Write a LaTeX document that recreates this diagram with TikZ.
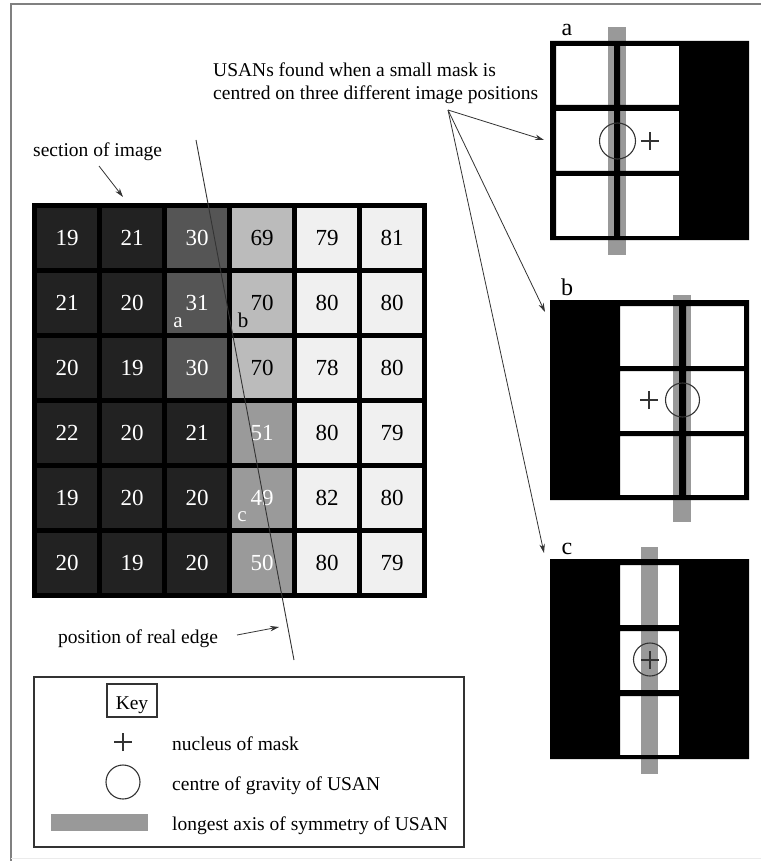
\documentclass[tikz,border=0pt]{standalone}
\usepackage{fontspec}
\setmainfont{Liberation Serif}
\usetikzlibrary{arrows.meta}
\definecolor{cdark}{HTML}{222222}
\definecolor{cmid}{HTML}{555555}
\definecolor{clight}{HTML}{BBBBBB}
\definecolor{cgray}{HTML}{9A9A9A}
\definecolor{cwhite}{HTML}{F0F0F0}
\definecolor{barc}{HTML}{999999}
\definecolor{linec}{HTML}{333333}
\definecolor{framec}{HTML}{808080}
\begin{document}
\begin{tikzpicture}[x=1pt,y=-1pt,
  lbl/.style={font=\fontsize{19.5}{23}\selectfont, inner sep=0pt},
  cell/.style={minimum width=60pt, minimum height=60pt, inner sep=0pt, font=\fontsize{23}{26}\selectfont},
  cD/.style={fill=cdark,text=white},
  cM/.style={fill=cmid,text=white},
  cL/.style={fill=clight,text=black},
  cG/.style={fill=cgray,text=white},
  cW/.style={fill=cwhite,text=black},
  arr/.style={draw=linec, line width=0.8pt, -{Stealth[length=9pt,width=5.5pt]}},
  mlabel/.style={font=\fontsize{24}{26}\selectfont, inner sep=0pt, anchor=base},
  glabel/.style={font=\fontsize{21}{24}\selectfont, inner sep=0pt, anchor=base},
  thinc/.style={draw=linec, line width=1.1pt},
  bar/.style={fill=barc},
]
\useasboundingbox (0,0) rectangle (761,861);
% frame
\draw[framec, line width=2pt] (10.5,861) -- (10.5,4.3) -- (761,4.3);
\draw[black!8, line width=1pt] (10.5,858) -- (761,858);

% ---------- image grid ----------
\fill[black] (32,203) rectangle (427,598);
\foreach \v/\s [count=\i from 0] in {19/cD,21/cD,30/cM,69/cL,79/cW,81/cW}
  \node[cell,\s] (g-\i-0) at (67+65*\i,238) {\v};
\foreach \v/\s [count=\i from 0] in {21/cD,20/cD,31/cM,70/cL,80/cW,80/cW}
  \node[cell,\s] (g-\i-1) at (67+65*\i,303) {\v};
\foreach \v/\s [count=\i from 0] in {20/cD,19/cD,30/cM,70/cL,78/cW,80/cW}
  \node[cell,\s] (g-\i-2) at (67+65*\i,368) {\v};
\foreach \v/\s [count=\i from 0] in {22/cD,20/cD,21/cD,51/cG,80/cW,79/cW}
  \node[cell,\s] (g-\i-3) at (67+65*\i,433) {\v};
\foreach \v/\s [count=\i from 0] in {19/cD,20/cD,20/cD,49/cG,82/cW,80/cW}
  \node[cell,\s] (g-\i-4) at (67+65*\i,498) {\v};
\foreach \v/\s [count=\i from 0] in {20/cD,19/cD,20/cD,50/cG,80/cW,79/cW}
  \node[cell,\s] (g-\i-5) at (67+65*\i,563) {\v};
\node[glabel,text=white] (la) at (178,327) {a};
\node[glabel,text=black] (lb) at (243,327) {b};
\node[glabel,text=white] (lc) at (242,521) {c};

% real edge
\coordinate (edgetop) at (196,140);
\coordinate (edgebot) at (294,660);
\draw[linec, line width=0.9pt] (edgetop) -- (edgebot);

% labels
\node[lbl, anchor=base west] (sect) at (33,157) {section of image};
\coordinate (sectA) at (99,166);
\coordinate (sectB) at (123,197);
\draw[arr] (sectA) -- (sectB);
\node[lbl, anchor=base west] (posedge) at (58,643) {position of real edge};
\coordinate (posA) at (237,635);
\coordinate (posB) at (279,627);
\draw[arr] (posA) -- (posB);

\node[lbl, anchor=base west] (usan1) at (213,77) {USANs found when a small mask is};
\node[lbl, anchor=base west] (usan2) at (213,100) {centred on three different image positions};
\coordinate (usanpt) at (448,110);
\coordinate (ea) at (544,140);
\coordinate (eb) at (545,312);
\coordinate (ec) at (544,553);
\draw[arr] (usanpt) -- (ea);
\draw[arr] (usanpt) -- (eb);
\draw[arr] (usanpt) -- (ec);

% ---------- mask a ----------
\fill[bar] (608,27) rectangle (626,255);
\fill[black, even odd rule] (550,41) rectangle (749,240)
  (556,46) rectangle (614,105) (620,46) rectangle (679,105)
  (556,111) rectangle (614,171) (620,111) rectangle (679,171)
  (556,176) rectangle (614,236) (620,176) rectangle (679,236);
\node[circle, thinc, minimum size=36pt, inner sep=0pt] (cga) at (617.5,141) {};
\coordinate (nua) at (650,141);
\draw[thinc] ([xshift=-9pt]nua) -- ([xshift=9pt]nua) ([yshift=-9pt]nua) -- ([yshift=9pt]nua);
\node[mlabel] (ma) at (567,36) {a};

% ---------- mask b ----------
\fill[bar] (673,295) rectangle (691,522);
\fill[black, even odd rule] (550,300) rectangle (749,500)
  (620,306) rectangle (679,366) (686,306) rectangle (744,366)
  (620,371) rectangle (679,431) (686,371) rectangle (744,431)
  (620,436) rectangle (679,495) (686,436) rectangle (744,495);
\node[circle, thinc, minimum size=34pt, inner sep=0pt] (cgb) at (682.5,400) {};
\coordinate (nub) at (649,400);
\draw[thinc] ([xshift=-9pt]nub) -- ([xshift=9pt]nub) ([yshift=-9pt]nub) -- ([yshift=9pt]nub);
\node[mlabel] (mb) at (567,295) {b};

% ---------- mask c ----------
\fill[bar] (641,547) rectangle (658,774);
\fill[black, even odd rule] (550,559) rectangle (749,759)
  (620,565) rectangle (679,625)
  (620,631) rectangle (679,690)
  (620,696) rectangle (679,755);
\node[circle, thinc, minimum size=33pt, inner sep=0pt] (cgc) at (650,659.5) {};
\coordinate (nuc) at (650,660);
\draw[thinc] ([xshift=-9pt]nuc) -- ([xshift=9pt]nuc) ([yshift=-9pt]nuc) -- ([yshift=9pt]nuc);
\node[mlabel] (mc) at (567,554) {c};

% ---------- key ----------
\draw[linec, line width=1.2pt] (34,677) rectangle (464,847);
\node[draw=linec, line width=1.2pt, minimum width=50pt, minimum height=33pt, inner sep=0pt] (keybox) at (132,700.5) {};
\node[lbl, anchor=base] (keytxt) at (132,709) {Key};
\coordinate (knu) at (123,742);
\draw[thinc] ([xshift=-9pt]knu) -- ([xshift=9pt]knu) ([yshift=-9pt]knu) -- ([yshift=9pt]knu);
\node[circle, thinc, minimum size=34pt, inner sep=0pt] (kcg) at (123,782) {};
\fill[bar] (51,814) rectangle (148,831);
\node[lbl, anchor=base west] (k1) at (172,750) {nucleus of mask};
\node[lbl, anchor=base west] (k2) at (172,790) {centre of gravity of USAN};
\node[lbl, anchor=base west] (k3) at (172,830) {longest axis of symmetry of USAN};
\end{tikzpicture}
\end{document}
